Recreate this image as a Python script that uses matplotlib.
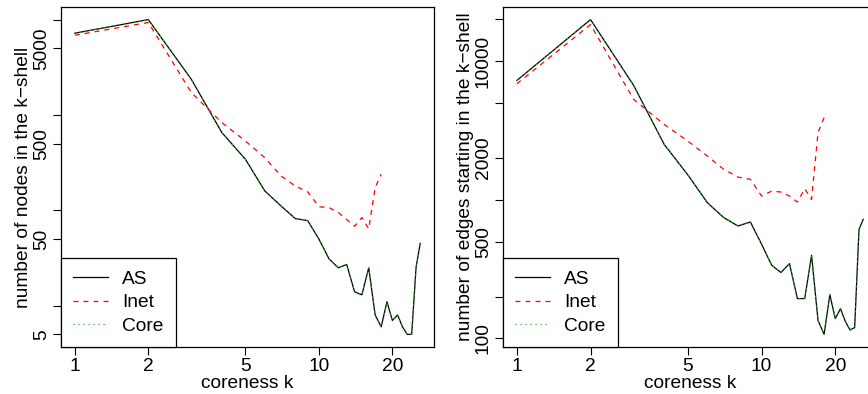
import numpy as np
import matplotlib.pyplot as plt
from matplotlib.ticker import FixedLocator, FixedFormatter, NullLocator

plt.rcParams['font.family'] = ['Liberation Sans', 'DejaVu Sans']
plt.rcParams['font.size'] = 13.8

k_as = np.arange(1, 27)
k_inet = np.arange(1, 19)

# nodes per k-shell
nodes_as = [7200, 10000, 2370, 655, 343, 160, 111, 82, 78, 50, 31, 25, 27,
            14, 13, 25, 8, 6, 11, 7, 8, 6, 5, 5, 25, 45]
nodes_inet = [6860, 9330, 1720, 832, 533, 357, 229, 180, 156, 109, 107, 95,
              80, 68, 84, 64, 173, 239]
nodes_core = nodes_as

# edges starting in k-shell
edges_as = [7260, 19950, 6690, 2510, 1510, 955, 745, 648, 692, 478, 337, 299,
            347, 194, 194, 398, 135, 107, 207, 139, 164, 132, 115, 120, 612, 723]
edges_inet = [6870, 18360, 5300, 3500, 2650, 2070, 1660, 1460, 1405, 1065,
              1157, 1138, 1065, 964, 1203, 1008, 3050, 3910]
edges_core = edges_as

x_ticks = [1, 2, 5, 10, 20]
nodes_ticks = [5, 10, 50, 100, 500, 1000, 5000, 10000]
nodes_labels = ['5', '', '50', '', '500', '', '5000', '']
edges_ticks = [100, 200, 500, 1000, 2000, 5000, 10000, 20000]
edges_labels = ['100', '', '500', '', '2000', '', '10000', '']


def log_lim(vals):
    lo, hi = np.log10(min(vals)), np.log10(max(vals))
    pad = 0.04 * (hi - lo)
    return 10 ** (lo - pad), 10 ** (hi + pad)


def panel(ax, as_vals, inet_vals, core_vals, yticks, ylabels, ylabel):
    ax.plot(k_as, as_vals, color='black', lw=0.9, label='AS')
    ax.plot(k_inet, inet_vals, color='red', lw=0.9, dashes=(4, 4), label='Inet')
    ax.plot(k_as, core_vals, color='#22B022', lw=0.9, dashes=(1, 3), label='Core')
    ax.set_xscale('log')
    ax.set_yscale('log')
    ax.set_xlim(*log_lim(k_as))
    ax.set_ylim(*log_lim(list(as_vals) + list(inet_vals)))
    ax.xaxis.set_major_locator(FixedLocator(x_ticks))
    ax.xaxis.set_major_formatter(FixedFormatter([str(t) for t in x_ticks]))
    ax.xaxis.set_minor_locator(NullLocator())
    ax.yaxis.set_major_locator(FixedLocator(yticks))
    ax.yaxis.set_major_formatter(FixedFormatter(ylabels))
    ax.yaxis.set_minor_locator(NullLocator())
    ax.tick_params(length=6, width=0.8, pad=2)
    for lab in ax.get_yticklabels():
        lab.set_rotation(90)
        lab.set_va('center')
    for s in ax.spines.values():
        s.set_linewidth(0.9)
    ax.set_xlabel('coreness k', labelpad=0)
    ax.set_ylabel(ylabel, labelpad=1)
    ax.legend(loc='lower left', borderaxespad=0, fancybox=False,
              edgecolor='black', framealpha=1, handlelength=1.8,
              handletextpad=0.75, labelspacing=0.3, borderpad=0.65)
    ax.get_legend().get_frame().set_linewidth(0.9)


fig = plt.figure(figsize=(8.68, 3.94), dpi=100)
ax1 = fig.add_axes([0.0703, 0.1193, 0.4297, 0.8629])
ax2 = fig.add_axes([0.5795, 0.1193, 0.4309, 0.8629])

panel(ax1, nodes_as, nodes_inet, nodes_core, nodes_ticks, nodes_labels,
      'number of nodes in the k\u2212shell')
panel(ax2, edges_as, edges_inet, edges_core, edges_ticks, edges_labels,
      'number of edges starting in the k\u2212shell')

fig.savefig('out.png', dpi=100)
